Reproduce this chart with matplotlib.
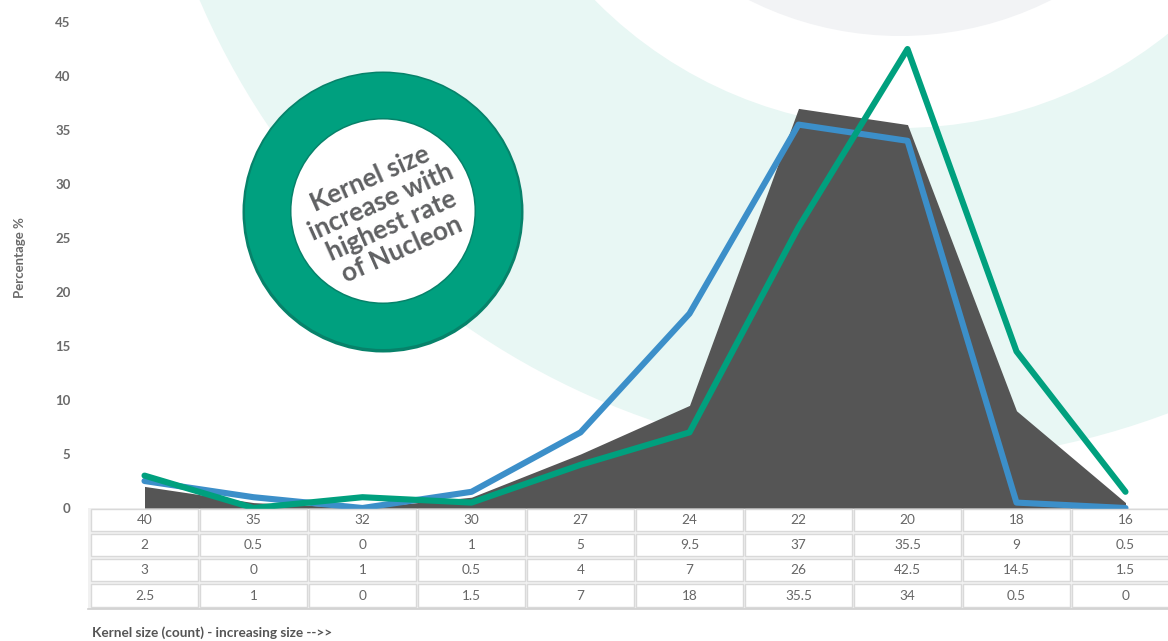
import matplotlib
matplotlib.use("Agg")
import matplotlib.pyplot as plt
from matplotlib.patches import Circle, Rectangle
from matplotlib import transforms

plt.rcParams['font.family'] = ['Lato', 'DejaVu Sans']

# ---- data ----
kernel_sizes = ["40", "35", "32", "30", "27", "24", "22", "20", "18", "16"]
series_area = [2, 0.5, 0, 1, 5, 9.5, 37, 35.5, 9, 0.5]       # dark grey area
series_green = [3, 0, 1, 0.5, 4, 7, 26, 42.5, 14.5, 1.5]      # green line
series_blue = [2.5, 1, 0, 1.5, 7, 18, 35.5, 34, 0.5, 0]       # blue line
table_rows = [kernel_sizes,
              ["2", "0.5", "0", "1", "5", "9.5", "37", "35.5", "9", "0.5"],
              ["3", "0", "1", "0.5", "4", "7", "26", "42.5", "14.5", "1.5"],
              ["2.5", "1", "0", "1.5", "7", "18", "35.5", "34", "0.5", "0"]]
y_ticks = [0, 5, 10, 15, 20, 25, 30, 35, 40, 45]

W, H = 1168, 641
fig = plt.figure(figsize=(W / 100, H / 100), dpi=100)

# ---- background decoration (pixel coordinates) ----
bg = fig.add_axes([0, 0, 1, 1], zorder=0)
bg.set_xlim(0, W)
bg.set_ylim(H, 0)
bg.axis('off')
bg.add_patch(Circle((900, -300), 762, facecolor='#e8f7f4', edgecolor='none'))
bg.add_patch(Circle((900, -300), 428, facecolor='white', edgecolor='none'))
bg.add_patch(Circle((900, -300), 336, facecolor='#f2f3f5', edgecolor='none'))

# ---- main axes ----
ax_left = 90 / W
ax_w = 1090 / W
ax_bottom = (H - 508) / H
ax_h = 486 / H
ax = fig.add_axes([ax_left, ax_bottom, ax_w, ax_h], zorder=1)
ax.patch.set_alpha(0)
x = list(range(len(kernel_sizes)))
ax.fill_between(x, series_area, 0, color='#555555', linewidth=0, zorder=2)
ax.plot(x, series_blue, color='#3c8fc9', lw=4.4, solid_joinstyle='round',
        solid_capstyle='round', clip_on=False, zorder=3)
ax.plot(x, series_green, color='#00a07e', lw=4.4, solid_joinstyle='round',
        solid_capstyle='round', clip_on=False, zorder=4)
ax.set_xlim(-0.5, len(x) - 0.5)
ax.set_ylim(0, 45)
ax.set_xticks([])
ax.set_yticks(y_ticks)
ax.set_yticklabels([str(t) for t in y_ticks])
ax.tick_params(axis='y', length=0, pad=14, labelsize=9.5, labelcolor='#6a6a6a')
for lab in ax.get_yticklabels():
    lab.set_fontweight('bold')
for s in ax.spines.values():
    s.set_visible(False)

# y label
fig.text(20 / W, 1 - 258 / H, "Percentage %", rotation=90, ha='center', va='center',
         fontsize=9.5, color='#6a6a6a', fontweight='bold')

# ---- data table ----
tr = transforms.blended_transform_factory(ax.transData, fig.transFigure)
fig_tr = fig.transFigure
fig.patches.append(Rectangle((88 / W, 1 - 609 / H), (W - 88) / W, 101 / H,
                             transform=fig_tr, facecolor='#f1f1f1', edgecolor='none',
                             zorder=0.5))
row_px = [(509, 531), (534, 556), (559, 581), (584, 607)]
for r, (top, bot) in enumerate(row_px):
    for c, val in enumerate(table_rows[r]):
        ax.add_patch(Rectangle((c - 0.5 + 0.012, 1 - bot / H), 1 - 0.024, (bot - top) / H,
                               transform=tr, facecolor='white', edgecolor='#d9d9d9',
                               linewidth=1.0, clip_on=False, zorder=5))
        ax.text(c, 1 - (top + bot) / 2 / H, val, transform=tr, ha='center', va='center',
                fontsize=9.8, color='#666666', clip_on=False, zorder=6)
ax.add_line(plt.Line2D([-0.52, len(x) - 0.4], [1 - 609 / H, 1 - 609 / H], transform=tr,
                       color='#cfcfcf', lw=1.2, clip_on=False, zorder=6))

# x label
fig.text(92 / W, 1 - 633 / H, "Kernel size (count) - increasing size -->>", ha='left',
         va='center', fontsize=9.8, color='#555555', fontweight='bold')

# ---- badge ----
ov = fig.add_axes([0, 0, 1, 1], zorder=3)
ov.set_xlim(0, W)
ov.set_ylim(H, 0)
ov.axis('off')
ov.patch.set_alpha(0)
ov.add_patch(Circle((383, 212), 140.5, facecolor='#07826a', edgecolor='none'))
ov.add_patch(Circle((383, 211), 138, facecolor='#00a07f', edgecolor='none'))
ov.add_patch(Circle((383, 211), 93, facecolor='#07826a', edgecolor='none'))
ov.add_patch(Circle((383, 211), 91.5, facecolor='white', edgecolor='none'))
ov.text(386, 214, "Kernel size\nincrease with\nhighest rate\nof Nucleon", rotation=24,
        rotation_mode='anchor', ha='center', va='center', multialignment='center',
        fontsize=19, fontweight='bold', color='#5f6062', linespacing=1.1)

fig.savefig("out.png", dpi=100)
